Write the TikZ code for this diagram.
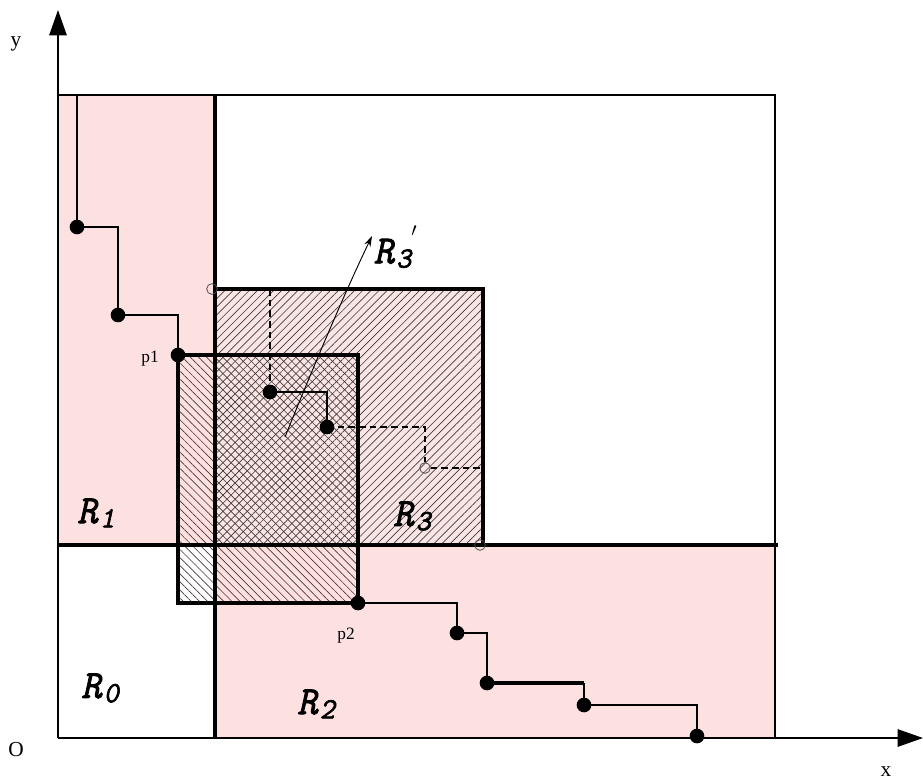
\documentclass[tikz,border=0pt]{standalone}
\usepackage{fontspec}
\setmainfont{Liberation Serif}
\newfontfamily\rfont{Latin Modern Mono}[FakeBold=2.2,FakeSlant=0.22]
\usetikzlibrary{patterns.meta,arrows.meta}
\definecolor{pinkR}{RGB}{253,225,225}
\definecolor{pinkL}{RGB}{248,230,230}
\definecolor{hatch}{RGB}{70,55,55}
\newcommand{\Rlab}[1]{{\rfont R\kern1.5pt\raisebox{-0.25ex}{\fontsize{22}{22}\selectfont #1}}}
\tikzset{
  dotpt/.style={circle,fill=black,inner sep=0pt,minimum size=11pt},
  opendot/.style={circle,draw=black!70,line width=0.6pt,inner sep=0pt,minimum size=8pt,fill=none},
  thinln/.style={line width=1.3pt},
  thickln/.style={line width=3.7pt},
  boxln/.style={line width=3pt},
  dashln/.style={line width=1.9pt,dash pattern=on 5pt off 3pt},
  rlabel/.style={font=\fontsize{30}{30}\selectfont,inner sep=1pt},
  plabel/.style={font=\fontsize{13}{13}\selectfont},
  axlabel/.style={font=\fontsize{16}{16}\selectfont},
  axarrow/.style={line width=1.3pt,-{Triangle[length=19pt,width=13pt]}}
}
\begin{document}
\begin{tikzpicture}[x=0.75pt,y=-0.75pt]
\useasboundingbox (0,0) rectangle (923,783);
% regions
\fill[pinkR] (58,95) rectangle (215,545);
\fill[pinkR] (215,545) rectangle (775,738);
\fill[pinkL] (215,289) rectangle (483,545);
\pattern[pattern={Lines[angle=45,distance=4.3pt,line width=0.5pt]},pattern color=hatch] (215,289) rectangle (483,545);
\pattern[pattern={Lines[angle=-45,distance=4.3pt,line width=0.5pt]},pattern color=hatch] (178,355) rectangle (358,603);
% coordinates
\coordinate (O) at (58,738);
\coordinate (ytip) at (58,10);
\coordinate (xtip) at (923,738);
\coordinate (tl) at (58,95);
\coordinate (tr) at (775,95);
\coordinate (br) at (775,738);
% outer box and axes
\draw[thinln] (tl) -- (tr) -- (br);
\draw[axarrow] (O) -- (ytip);
\draw[axarrow] (O) -- (xtip);
% thick split lines
\draw[thickln] (215,95) -- (215,738);
\draw[thickln] (58,545) -- (778,545);
% boxes
\draw[boxln] (215,289) rectangle (483,545);
\draw[line width=2.6pt] (178,355) rectangle (358,603);
% points
\node[dotpt] (a1) at (77,227) {};
\node[dotpt] (a2) at (118,315) {};
\node[dotpt] (p1) at (178,355) {};
\node[dotpt] (b1) at (270,392) {};
\node[dotpt] (b2) at (327,427) {};
\node[opendot] (b3) at (425,468) {};
\node[opendot] (c1) at (212,289) {};
\node[opendot] (c2) at (480,545) {};
\node[dotpt] (p2) at (358,603) {};
\node[dotpt] (d1) at (457,633) {};
\node[dotpt] (d2) at (487,683) {};
\node[dotpt] (d3) at (584,705) {};
\node[dotpt] (d4) at (697,736) {};
\coordinate (s0) at (77,95);
\coordinate (r3top) at (270,289);
\coordinate (r3right) at (483,468);
% staircases
\draw[thinln] (s0) -- (a1.center) -| (a2.center) -| (p1.center);
\draw[thinln] (b1.center) -| (b2.center);
\draw[dashln] (r3top) -- (b1.center);
\draw[dashln] (b2.center) -| (b3.north);
\draw[dashln] (b3.east) -- (r3right);
\draw[thinln] (p2.center) -| (d1.center) -| (d2.center);
\draw[line width=2.6pt] (d2.center) -- (584,683);
\draw[thinln] (584,683) -- (d3.center) -| (d4.center);
% R3' arrow
\coordinate (arrS) at (285,437);
\node[rlabel,anchor=west] (r3p) at (372,247) {\Rlab{3}\raisebox{0.9ex}{\fontsize{20}{20}\selectfont$'$}};
\draw[line width=0.7pt,-{Stealth[length=8pt,width=5pt]}] (arrS) .. controls (312,370) and (345,292) .. (372,236);
% labels
\node[rlabel] (R1) at (96,513) {\Rlab{1}};
\node[rlabel] (R3) at (412,516) {\Rlab{3}};
\node[rlabel] (R0) at (100,688) {\Rlab{0}};
\node[rlabel] (R2) at (316,704) {\Rlab{2}};
\node[plabel] (lp1) at (150,359) {p1};
\node[plabel] (lp2) at (346,636) {p2};
\node[axlabel] (lO) at (16,750) {O};
\node[axlabel] (lx) at (886,772) {x};
\node[axlabel] (ly) at (16,44) {y};
\end{tikzpicture}
\end{document}
